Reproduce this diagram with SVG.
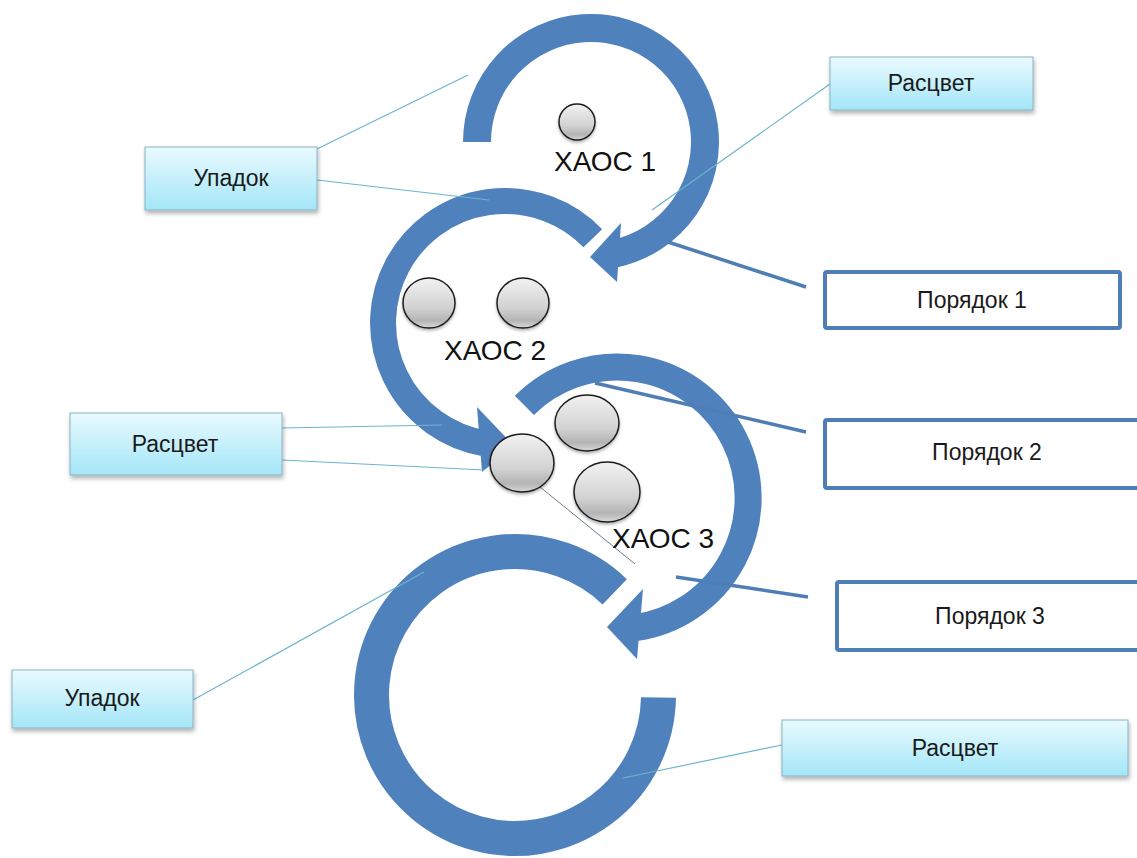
<svg xmlns="http://www.w3.org/2000/svg" width="1137" height="858" viewBox="0 0 1137 858">
<style>
.arc{fill:none;stroke:#4f81bd;stroke-linecap:butt}
.head{fill:#4f81bd}
.lbl{font-family:"Liberation Sans",Arial,sans-serif;font-size:23px;fill:#1a1a1a;text-anchor:middle}
.chaos{font-family:"Liberation Sans",Arial,sans-serif;font-size:28px;fill:#111;text-anchor:middle}
.cbox{fill:url(#boxGrad);stroke:#86b3c4;stroke-width:1;filter:url(#sh)}
.obox{fill:#fff;stroke:#4f7db6;stroke-width:4}
.ball{fill:url(#ballGrad);stroke:#1e1e1e;stroke-width:1.5;filter:url(#sh2)}
.thin{stroke:#6db3cf;stroke-width:1.2;fill:none}
.thick{stroke:#4f7db6;stroke-width:3.5;fill:none}
.gray{stroke:#6a7b8c;stroke-width:1;fill:none}
</style>
<defs>
<linearGradient id="boxGrad" x1="0" y1="0" x2="0" y2="1">
<stop offset="0" stop-color="#eafafe"/>
<stop offset="1" stop-color="#a3e6f8"/>
</linearGradient>
<linearGradient id="ballGrad" x1="0" y1="0" x2="0" y2="1">
<stop offset="0" stop-color="#f2f2f2"/>
<stop offset="0.6" stop-color="#d2d2d2"/>
<stop offset="0.85" stop-color="#b4b4b4"/>
<stop offset="1" stop-color="#d8d8d8"/>
</linearGradient>
<filter id="sh" x="-10%" y="-20%" width="125%" height="150%">
<feDropShadow dx="1" dy="3" stdDeviation="2" flood-color="#000" flood-opacity="0.3"/>
</filter>
<filter id="sh2" x="-20%" y="-20%" width="150%" height="150%">
<feDropShadow dx="0" dy="2" stdDeviation="1.5" flood-color="#000" flood-opacity="0.3"/>
</filter>
</defs>

<g id="arc1">
<path class="arc" stroke-width="28" d="M477,142 A114,114 0 1 1 614.7,253.5"/>
<polygon class="head" points="621,223 617,282 590,257"/>
</g>
<g id="arc2">
<path class="arc" stroke-width="26" d="M592.8,238.2 A122,122 0 1 0 483.8,443.1"/>
<polygon class="head" points="477,407 482,472 514,446"/>
</g>
<g id="arc3">
<path class="arc" stroke-width="27" d="M524.4,405.4 A131,131 0 1 1 635.2,627.7"/>
<polygon class="head" points="643,589 637,659 607,627"/>
</g>
<g id="arc4">
<path class="arc" stroke-width="35" d="M614.7,591.8 A143.5,143.5 0 1 0 658.5,697.5"/>
</g>

<g id="connectors">
<line class="thin" x1="317" y1="149" x2="468" y2="75"/>
<line class="thin" x1="317" y1="180" x2="489" y2="200"/>
<line class="thin" x1="830" y1="84" x2="652" y2="210"/>
<line class="thick" x1="806" y1="287" x2="668" y2="242"/>
<line class="thick" x1="806" y1="432" x2="595" y2="383"/>
<line class="thick" x1="808" y1="597" x2="676" y2="577"/>
<line class="thin" x1="282" y1="428" x2="442" y2="425"/>
<line class="thin" x1="282" y1="460" x2="484" y2="470"/>
<line class="gray" x1="540" y1="487" x2="635" y2="564"/>
<line class="thin" x1="193" y1="700" x2="424" y2="572"/>
<line class="thin" x1="782" y1="745" x2="623" y2="778"/>
</g>

<g id="chaos1">
<ellipse class="ball" cx="577" cy="122" rx="18" ry="18"/>
<text class="chaos" x="605" y="171">ХАОС 1</text>
</g>
<g id="chaos2">
<ellipse class="ball" cx="429" cy="303" rx="26" ry="25"/>
<ellipse class="ball" cx="523" cy="303" rx="26" ry="25"/>
<text class="chaos" x="495" y="360">ХАОС 2</text>
</g>
<g id="chaos3">
<ellipse class="ball" cx="587" cy="423" rx="32" ry="28"/>
<ellipse class="ball" cx="522" cy="463" rx="32" ry="29"/>
<ellipse class="ball" cx="607" cy="492" rx="33" ry="30"/>
<text class="chaos" x="663" y="548">ХАОС 3</text>
</g>

<g id="decline1">
<rect class="cbox" x="145" y="147" width="172" height="63"/>
<text class="lbl" x="231" y="186">Упадок</text>
</g>
<g id="bloom1">
<rect class="cbox" x="830" y="57" width="203" height="53"/>
<text class="lbl" x="931" y="91">Расцвет</text>
</g>
<g id="order1">
<rect class="obox" x="825" y="272" width="295" height="56" rx="2"/>
<text class="lbl" x="972" y="308">Порядок 1</text>
</g>
<g id="order2">
<rect class="obox" x="825" y="420" width="320" height="68" rx="2"/>
<text class="lbl" x="987" y="460">Порядок 2</text>
</g>
<g id="order3">
<rect class="obox" x="837" y="582" width="310" height="68" rx="2"/>
<text class="lbl" x="990" y="624">Порядок 3</text>
</g>
<g id="bloom2">
<rect class="cbox" x="70" y="413" width="212" height="62"/>
<text class="lbl" x="175" y="452">Расцвет</text>
</g>
<g id="decline2">
<rect class="cbox" x="12" y="670" width="181" height="58"/>
<text class="lbl" x="102" y="706">Упадок</text>
</g>
<g id="bloom3">
<rect class="cbox" x="782" y="720" width="346" height="56"/>
<text class="lbl" x="955" y="756">Расцвет</text>
</g>
</svg>
